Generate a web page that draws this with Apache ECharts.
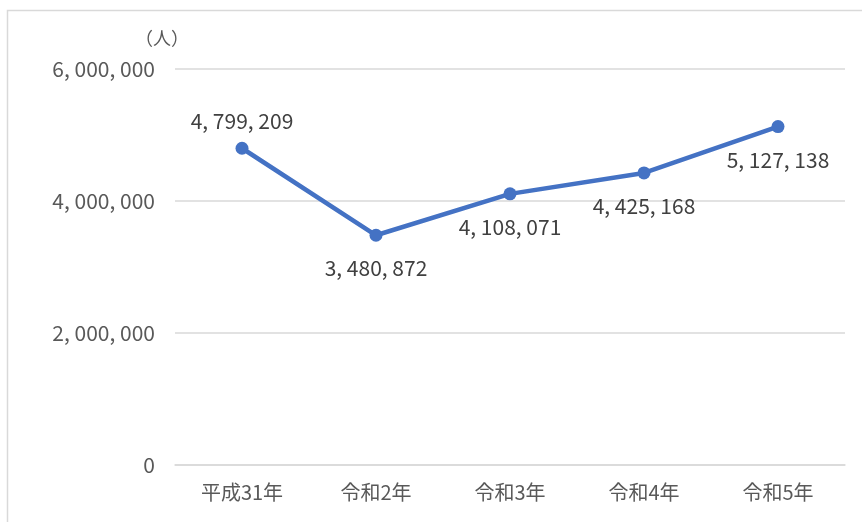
<!DOCTYPE html>
<html><head><meta charset="utf-8">
<script src="https://cdn.jsdelivr.net/npm/echarts@6/dist/echarts.min.js"></script>
<style>html,body{margin:0;padding:0;background:#fff}#c{width:862px;height:522px}</style>
</head><body><div id="c"></div>
<script>
const categories = ['平成31年', '令和2年', '令和3年', '令和4年', '令和5年'];
const visitors = [4799209, 3480872, 4108071, 4425168, 5127138];
const yTicks = [0, 2000000, 4000000, 6000000];

const labelPlacement = ['top', 'bottom', 'bottom', 'bottom', 'bottom'];
const FONT = "'Noto Sans CJK JP',sans-serif";
const fmt = v => String(v).replace(/\B(?=(\d{3})+(?!\d))/g, ', ');

const chart = echarts.init(document.getElementById('c'));
chart.setOption({
  animation: false,
  graphic: [{type: 'rect', shape: {x: 7.5, y: 10.5, width: 900, height: 600},
    style: {fill: 'none', stroke: '#d9d9d9', lineWidth: 1.5}}],
  grid: {left: 175, right: 17, top: 69, bottom: 57},
  xAxis: {
    type: 'category', data: categories, boundaryGap: true,
    axisLine: {lineStyle: {color: '#d9d9d9', width: 1.5}},
    axisTick: {show: false},
    axisLabel: {color: '#595959', fontSize: 20, fontFamily: FONT, margin: 17}
  },
  yAxis: {
    type: 'value', min: 0, max: 6000000, interval: 2000000,
    name: '（人）', nameLocation: 'end', nameGap: 22,
    nameTextStyle: {color: '#595959', fontSize: 18, fontFamily: FONT, align: 'center', padding: [0, 26, 0, 0]},
    axisLine: {show: false}, axisTick: {show: false},
    splitLine: {lineStyle: {color: '#d9d9d9', width: 1.5}},
    axisLabel: {color: '#595959', fontSize: 21, fontFamily: FONT, margin: 20,
      formatter: v => yTicks.includes(v) ? fmt(v) : ''}
  },
  series: [{
    type: 'line',
    data: visitors.map((v, i) => ({value: v, label: {position: labelPlacement[i], distance: labelPlacement[i] === 'top' ? 10 : 16}})),
    symbol: 'circle', symbolSize: 13,
    lineStyle: {color: '#4472C4', width: 4.5},
    itemStyle: {color: '#4472C4'},
    label: {show: true, color: '#404040', fontSize: 21, fontFamily: FONT, formatter: p => fmt(p.value)}
  }]
});
</script></body></html>
